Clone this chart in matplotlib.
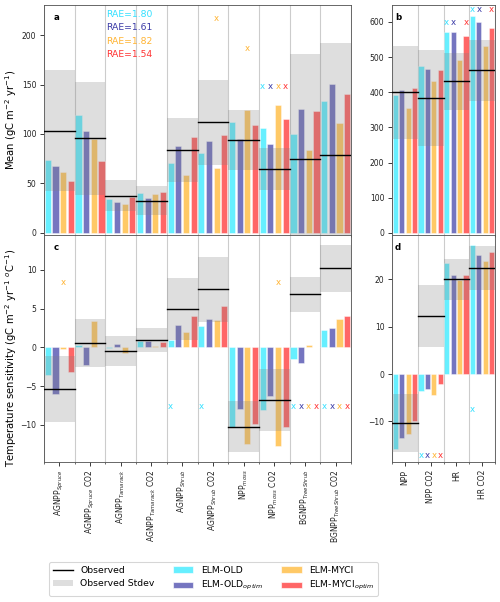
import matplotlib
matplotlib.use("Agg")
import matplotlib.pyplot as plt
import numpy as np
from matplotlib.lines import Line2D
from matplotlib.patches import Patch

# ---------------- data ----------------
labels_a = [r"AGNPP$_{Spruce}$", r"AGNPP$_{Spruce}$ CO2", r"AGNPP$_{Tamarack}$",
            r"AGNPP$_{Tamarack}$ CO2", r"AGNPP$_{Shrub}$", r"AGNPP$_{Shrub}$ CO2",
            r"NPP$_{moss}$", r"NPP$_{moss}$ CO2", r"BGNPP$_{TreeShrub}$",
            r"BGNPP$_{TreeShrub}$ CO2"]
labels_b = ["NPP", "NPP CO2", "HR", "HR CO2"]
models = ["ELM-OLD", r"ELM-OLD$_{optim}$", "ELM-MYCI", r"ELM-MYCI$_{optim}$"]
rae = ["RAE=1.80", "RAE=1.61", "RAE=1.82", "RAE=1.54"]

# panel a: mean
obs_a = [103.4, 95.6, 37.5, 32.5, 84.0, 112.0, 94.0, 64.5, 75.0, 79.0]
sd_a = [61.0, 57.0, 16.0, 15.0, 32.5, 43.0, 30.5, 21.5, 106.4, 112.6]
old_a = [74, 119, 34, 40.5, 71, 81, 112, 106, 100, 133]
oldopt_a = [68, 103, 31, 35, 88, 92.5, 94.6, 90, 125.7, 150.7]
myci_a = [61, 95, 29, 39, 58, 66, 124.3, 129, 83.4, 111.5]
mycopt_a = [52, 73, 36.5, 41.5, 96.6, 98.6, 109, 115, 123.6, 140.5]
marks_a = [(5, 2, 216.5), (6, 2, 186), (7, 0, 148), (7, 1, 148), (7, 2, 148), (7, 3, 148)]

# panel b: mean
obs_b = [400, 384, 431, 462]
sd_b = [132, 136, 81, 87]
old_b = [393, 475.6, 571.5, 617]
oldopt_b = [407, 465, 571.5, 601]
myci_b = [356, 431, 492, 531]
mycopt_b = [413, 462, 559, 584]
marks_b = [(2, 0, 599), (2, 1, 599), (2, 3, 599), (3, 0, 636), (3, 1, 636), (3, 3, 636)]

# panel c: temperature sensitivity
obs_c = [-5.4, 0.6, -0.5, 0.95, 4.95, 7.5, -10.26, -6.8, 6.85, 10.2]
sd_c = [4.25, 3.1, 1.9, 1.55, 4.0, 4.2, 3.3, 4.0, 2.25, 3.0]
old_c = [-3.6, 0.35, -0.1, 0.86, 0.95, 2.76, -10.26, -8.1, -1.47, 2.24]
oldopt_c = [-6.0, -2.3, 0.47, 0.86, 2.9, 3.6, -7.97, -6.25, -1.98, 2.5]
myci_c = [-0.2, 3.45, -0.7, 0.17, 2.0, 3.5, -12.5, -12.76, 0.26, 3.6]
mycopt_c = [-3.2, 0.0, 0.1, 0.7, 4.05, 5.35, -9.9, -10.34, 0.0, 4.0]
marks_c = [(0, 2, 8.4), (4, 0, -7.6), (5, 0, -7.6), (7, 2, 8.4),
           (8, 0, -7.6), (8, 1, -7.6), (8, 2, -7.6), (8, 3, -7.6),
           (9, 0, -7.6), (9, 1, -7.6), (9, 2, -7.6), (9, 3, -7.6)]

# panel d: temperature sensitivity
obs_d = [-10.4, 12.3, 20.0, 22.35]
sd_d = [6.1, 6.5, 4.4, 4.65]
old_d = [-15.9, -3.5, 23.4, 27.2]
oldopt_d = [-13.45, -3.2, 20.85, 25.1]
myci_d = [-12.6, -4.5, 19.86, 23.9]
mycopt_d = [-10.0, -2.2, 20.9, 25.8]
marks_d = [(1, 0, -17.3), (1, 1, -17.3), (1, 2, -17.3), (1, 3, -17.3), (3, 0, -7.4)]

colors = ["#00e5ff", "#191996", "#ffa500", "#ff0000"]
txt_colors = ["#33e0ff", "#3a3aa6", "#ffb433", "#ff3333"]
BAR_ALPHA = 0.6
BAND = dict(color="gray", alpha=0.26)

W, H = 500, 602
DPI = 78
fig = plt.figure(figsize=(W / DPI, H / DPI), dpi=DPI)


def fr(x0, y0, x1, y1):
    return [x0 / W, 1 - y1 / H, (x1 - x0) / W, (y1 - y0) / H]


ax_a = fig.add_axes(fr(44, 5, 351, 235))
ax_b = fig.add_axes(fr(392, 5, 495, 235))
ax_c = fig.add_axes(fr(44, 235, 351, 462))
ax_d = fig.add_axes(fr(392, 235, 495, 462))

offsets = [-0.375, -0.125, 0.125, 0.375]


def draw(ax, obs, sd, series, marks, labels, ylim, show_labels, letter):
    n = len(obs)
    centers = np.arange(n) + 0.5
    for k, vals in enumerate(series):
        ax.bar(centers + offsets[k], vals, width=0.2, color=colors[k],
               alpha=BAR_ALPHA, edgecolor="white", linewidth=0.6, zorder=2)
    for i in range(n):
        ax.fill_between([i, i + 1], obs[i] - sd[i], obs[i] + sd[i],
                        linewidth=0, zorder=3, **BAND)
        ax.plot([i, i + 1], [obs[i], obs[i]], color="black", lw=1.3, zorder=4)
    for (g, m, y) in marks:
        ax.text(g + 0.5 + offsets[m], y, "x", color=txt_colors[m], fontsize=8,
                ha="center", va="center", zorder=5)
    ax.set_xlim(0, n)
    ax.set_ylim(*ylim)
    ax.set_xticks(centers)
    ax.set_xticks(np.arange(n + 1), minor=True)
    ax.grid(True, which="minor", axis="x", color="#cccccc", lw=1.0, zorder=1)
    ax.set_axisbelow(True)
    if show_labels:
        ax.set_xticklabels(labels, rotation=90, fontsize=7)
    else:
        ax.tick_params(axis="x", which="major", bottom=False, labelbottom=False)
    ax.tick_params(axis="y", labelsize=7, colors="#222222")
    ax.tick_params(axis="x", which="both", colors="#222222")
    for s in ax.spines.values():
        s.set_color("#555555")
    ax.text(0.03, 0.965, letter, transform=ax.transAxes, fontsize=8,
            fontweight="bold", ha="left", va="top", zorder=6)


draw(ax_a, obs_a, sd_a, [old_a, oldopt_a, myci_a, mycopt_a], marks_a, labels_a,
     (-2.3, 230.5), False, "a")
draw(ax_b, obs_b, sd_b, [old_b, oldopt_b, myci_b, mycopt_b], marks_b, labels_b,
     (-6, 648), False, "b")
draw(ax_c, obs_c, sd_c, [old_c, oldopt_c, myci_c, mycopt_c], marks_c, labels_a,
     (-14.8, 14.5), True, "c")
draw(ax_d, obs_d, sd_d, [old_d, oldopt_d, myci_d, mycopt_d], marks_d, labels_b,
     (-18.6, 29.4), True, "d")

ax_a.set_yticks([0, 50, 100, 150, 200])
ax_b.set_yticks([0, 100, 200, 300, 400, 500, 600])
ax_c.set_yticks([-10, -5, 0, 5, 10])
ax_d.set_yticks([-10, 0, 10, 20])

ax_a.set_ylabel(r"Mean (gC m$^{-2}$ yr$^{-1}$)", fontsize=9.2)
ax_c.set_ylabel(r"Temperature sensitivity (gC m$^{-2}$ yr$^{-1}$ $^{o}$C$^{-1}$)",
                fontsize=9.2)
ax_a.yaxis.set_label_coords(-0.083, 0.5)
ax_c.yaxis.set_label_coords(-0.083, 0.46)

for k, t in enumerate(rae):
    ax_a.text(2.02, 221 - 13.5 * k, t, color=txt_colors[k], fontsize=8.5,
              ha="left", va="center")

handles = [Line2D([0], [0], color="black", lw=1.3),
           Patch(facecolor="gray", alpha=0.26, edgecolor="none")]
for k in range(4):
    handles.append(Patch(facecolor=colors[k], alpha=BAR_ALPHA, edgecolor="white"))
leg_labels = ["Observed", "Observed Stdev"] + models
fig.legend(handles, leg_labels, ncol=3, loc="center", bbox_to_anchor=(0.427, 0.038),
           fontsize=8.5, frameon=True, columnspacing=2.0, handlelength=2.2)

fig.savefig("out.png", dpi=DPI)
